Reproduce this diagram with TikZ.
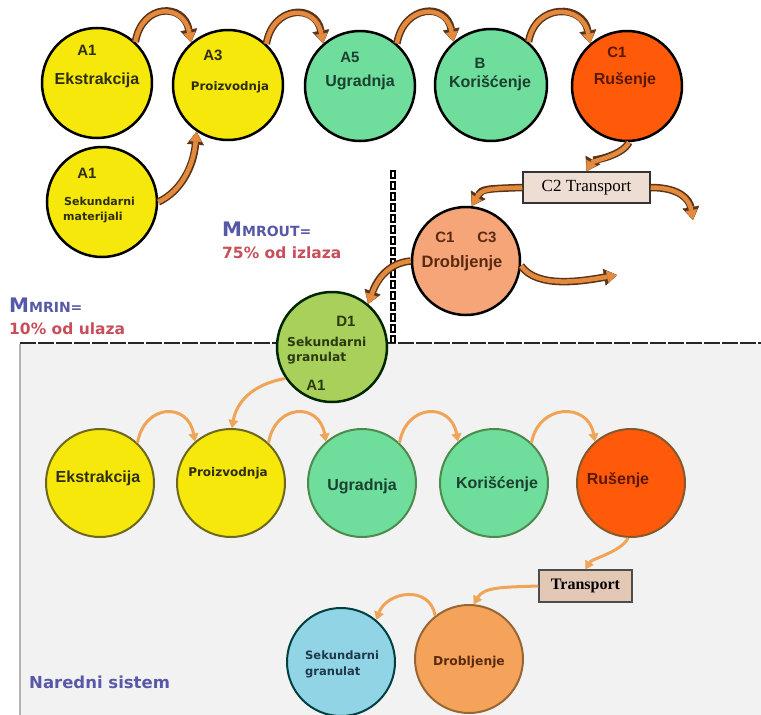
\documentclass[tikz,border=0pt]{standalone}
\usepackage{fontspec}
\setmainfont{Liberation Sans}
\newfontfamily\dvs{DejaVu Sans}
\newfontfamily\tms{Liberation Serif}
\usetikzlibrary{arrows.meta}
\definecolor{yel}{HTML}{F5E80A}
\definecolor{grn}{HTML}{6FDD9B}
\definecolor{redo}{HTML}{FF5A0A}
\definecolor{salm}{HTML}{F5A577}
\definecolor{lime}{HTML}{AAD05C}
\definecolor{sky}{HTML}{90D4E6}
\definecolor{orab}{HTML}{F5A35A}
\definecolor{arrO}{HTML}{E38A3E}
\definecolor{arrD}{HTML}{5A3418}
\definecolor{arrL}{HTML}{F0A458}
\definecolor{bgg}{HTML}{F2F2F2}
\definecolor{mblue}{HTML}{5858A8}
\definecolor{mred}{HTML}{C84E5A}
\definecolor{boxA}{HTML}{EEDDD2}
\definecolor{boxB}{HTML}{E3C8B6}
\definecolor{txY}{HTML}{2E2E10}
\definecolor{txG}{HTML}{1A4030}
\definecolor{txR}{HTML}{5A1800}
\definecolor{txD}{HTML}{5A2A10}
\definecolor{txL}{HTML}{2A3A10}
\definecolor{txB}{HTML}{1E3A4A}
\newcommand\fatarr[1]{\draw[fatout] #1; \draw[fatin] #1;}
\begin{document}
\begin{tikzpicture}[x=1pt,y=1pt,
  tc/.style={circle, draw=black, line width=2.5pt, minimum size=110pt, inner sep=0pt},
  bc/.style={circle, line width=2pt, minimum size=108pt, inner sep=0pt},
  lab/.style={font=\bfseries\fontsize{16}{18}\selectfont, inner sep=0pt},
  code/.style={font=\bfseries\fontsize{15}{17}\selectfont, inner sep=0pt},
  vlab/.style={font=\dvs\bfseries\fontsize{11.5}{13}\selectfont, inner sep=0pt},
  fatout/.style={draw=arrD, line width=7.5pt, -{Triangle[width=17pt,length=13pt,line width=0.4pt]}},
  fatin/.style={draw=arrO, line width=4.5pt, -{Triangle[width=12pt,length=10pt,line width=0.4pt]}},
  thin/.style={draw=arrL, line width=3pt, -{Triangle[width=10pt,length=8pt,line width=0.4pt]}},
  mtxt/.style={font=\dvs\bfseries, inner sep=0pt, anchor=west}
]
\useasboundingbox (0,-715) rectangle (761,0);
\fill[white] (0,-715) rectangle (761,0);
% lower system region
\fill[bgg] (20,-344) rectangle (761,-715);
\draw[gray!60, line width=1.5pt] (20,-344) -- (20,-715);
\draw[black!85, line width=2pt, dash pattern=on 16pt off 2pt] (20,-343) -- (761,-343);
% vertical boundary
\draw[black, line width=6pt, dash pattern=on 9pt off 2pt] (393,-170) -- (393,-343);
\draw[white, line width=2pt, dash pattern=on 0pt off 2pt on 5pt off 4pt] (393,-170) -- (393,-343);

% ---------- top system ----------
\node[tc, fill=yel] (ekT) at (97,-83) {};
\node[tc, fill=yel] (prT) at (228,-85) {};
\node[tc, fill=grn] (ugT) at (360,-86) {};
\node[tc, fill=grn, minimum size=112pt] (koT) at (491,-85) {};
\node[tc, fill=redo] (ruT) at (627,-86) {};
\node[tc, fill=yel] (smT) at (102,-202) {};
\node[tc, fill=salm, minimum size=108pt] (drT) at (466,-261) {};
\node[draw=black!80, line width=1.5pt, fill=boxA, minimum width=127pt, minimum height=31pt, inner sep=0pt,
      font=\tms\fontsize{17}{19}\selectfont] (c2) at (586.5,-187.5) {C2 Transport};
\node[tc, fill=lime, draw=black!70!green!50!black] (d1) at (332,-347) {};

\node[code, text=txY] (ekTa) at (87,-50) {A1};
\node[lab, text=txY] (ekTb) at (97,-80) {Ekstrakcija};
\node[code, text=txY] (prTa) at (213,-55) {A3};
\node[vlab, text=txY, font=\dvs\bfseries\fontsize{11.8}{13}\selectfont] (prTb) at (230,-87) {Proizvodnja};
\node[code, text=txG] (ugTa) at (350,-57) {A5};
\node[lab, text=txG] (ugTb) at (360,-82) {Ugradnja};
\node[code, text=txG] (koTa) at (480,-63) {B};
\node[lab, text=txG] (koTb) at (490,-83) {Korišćenje};
\node[code, text=txR] (ruTa) at (617,-52) {C1};
\node[lab, text=txR] (ruTb) at (625,-80) {Rušenje};
\node[code, text=txY] (smTa) at (87,-173) {A1};
\node[vlab, text=txY, anchor=west, font=\dvs\bfseries\fontsize{11}{13}\selectfont] (smTb) at (64,-201) {Sekundarni};
\node[vlab, text=txY, anchor=west, font=\dvs\bfseries\fontsize{11}{13}\selectfont] (smTc) at (63,-218) {materijali};
\node[code, text=txD] (drTa) at (445,-237) {C1};
\node[code, text=txD] (drTc) at (487,-237) {C3};
\node[lab, text=txD, font=\bfseries\fontsize{16.5}{18}\selectfont] (drTb) at (462,-263) {Drobljenje};
\node[code, text=txL] (d1a) at (346,-321) {D1};
\node[vlab, text=txL, anchor=west, font=\dvs\bfseries\fontsize{12.3}{13}\selectfont] (d1b) at (287,-342) {Sekundarni};
\node[vlab, text=txL, anchor=west, font=\dvs\bfseries\fontsize{12.3}{13}\selectfont] (d1c) at (287,-358) {granulat};
\node[code, text=txL] (d1d) at (316,-385) {A1};

\coordinate (outA) at (693,-220);
\coordinate (outB) at (617,-275);

\fatarr{(ekT.47) .. controls +(80:40) and +(100:40) .. (prT.131)}
\fatarr{(prT.47) .. controls +(80:40) and +(100:40) .. (ugT.131)}
\fatarr{(ugT.49) .. controls +(80:40) and +(100:40) .. (koT.131)}
\fatarr{(koT.49) .. controls +(80:40) and +(100:40) .. (ruT.131)}
\fatarr{(smT.0) .. controls +(25:25) and +(265:35) .. (prT.236)}
\fatarr{(ruT.272) .. controls +(245:15) and +(60:12) .. (c2.north)}
\fatarr{(c2.west) .. controls +(182:35) and +(60:20) .. (drT.84)}
\fatarr{(c2.east) .. controls +(0:30) and +(100:20) .. (outA)}
\fatarr{(drT.355) .. controls +(-55:28) and +(190:35) .. (outB)}
\fatarr{(drT.180) .. controls +(185:25) and +(70:22) .. (d1.50)}

% side texts
\node[mtxt, text=mblue] (mout) at (222,-229) {{\fontsize{20}{20}\selectfont M}{\fontsize{14}{14}\selectfont MROUT=}};
\node[mtxt, text=mred, font=\dvs\bfseries\fontsize{15.5}{17}\selectfont] (moutp) at (222,-253) {75\% od izlaza};
\node[mtxt, text=mblue] (min) at (9,-305) {{\fontsize{20}{20}\selectfont M}{\fontsize{14}{14}\selectfont MRIN=}};
\node[mtxt, text=mred, font=\dvs\bfseries\fontsize{15.5}{17}\selectfont] (minp) at (9,-329) {10\% od ulaza};

% ---------- next system ----------
\node[bc, fill=yel, draw=olive!70!black] (ekB) at (100,-483) {};
\node[bc, fill=yel, draw=olive!70!black] (prB) at (231,-483) {};
\node[bc, fill=grn, draw=green!35!black!70] (ugB) at (362,-483) {};
\node[bc, fill=grn, draw=green!35!black!70] (koB) at (494,-483) {};
\node[bc, fill=redo, draw=brown!70!black] (ruB) at (631,-483) {};
\node[draw=black!70, line width=1.5pt, fill=boxB, minimum width=93pt, minimum height=32pt, inner sep=0pt,
      font=\tms\bfseries\fontsize{16}{18}\selectfont] (tr) at (585.5,-586) {Transport};
\node[bc, fill=orab, draw=brown!80!black] (drB) at (469,-659) {};
\node[bc, fill=sky, draw=teal!50!black] (sgB) at (341,-662) {};

\node[lab, text=txY] (ekBa) at (98,-478) {Ekstrakcija};
\node[vlab, text=txY, font=\dvs\bfseries\fontsize{12}{13}\selectfont] (prBa) at (228,-473) {Proizvodnja};
\node[lab, text=txG] (ugBa) at (362,-486) {Ugradnja};
\node[lab, text=txG] (koBa) at (497,-484) {Korišćenje};
\node[lab, text=txR] (ruBa) at (618,-480) {Rušenje};
\node[vlab, text=txD, font=\dvs\bfseries\fontsize{12.3}{13}\selectfont] (drBa) at (469,-662) {Drobljenje};
\node[vlab, text=txB, anchor=west] (sgBa) at (305,-655) {Sekundarni};
\node[vlab, text=txB, anchor=west] (sgBb) at (305,-672) {granulat};

\draw[thin] (d1.214) .. controls +(190:35) and +(80:25) .. (prB.89);
\draw[thin] (ekB.47) .. controls +(80:40) and +(100:40) .. (prB.131);
\draw[thin] (prB.47) .. controls +(80:40) and +(100:40) .. (ugB.131);
\draw[thin] (ugB.47) .. controls +(80:40) and +(100:40) .. (koB.131);
\draw[thin] (koB.47) .. controls +(80:40) and +(100:40) .. (ruB.131);
\draw[thin] (ruB.267) .. controls +(245:15) and +(60:12) .. (tr.north);
\draw[thin] (tr.west) .. controls +(182:35) and +(60:20) .. (drB.85);
\draw[thin] (drB.128) .. controls +(100:32) and +(70:30) .. (sgB.50);

\node[mtxt, text=mblue, font=\dvs\bfseries\fontsize{16.5}{18}\selectfont] (nar) at (29,-682) {Naredni sistem};
\end{tikzpicture}
\end{document}
